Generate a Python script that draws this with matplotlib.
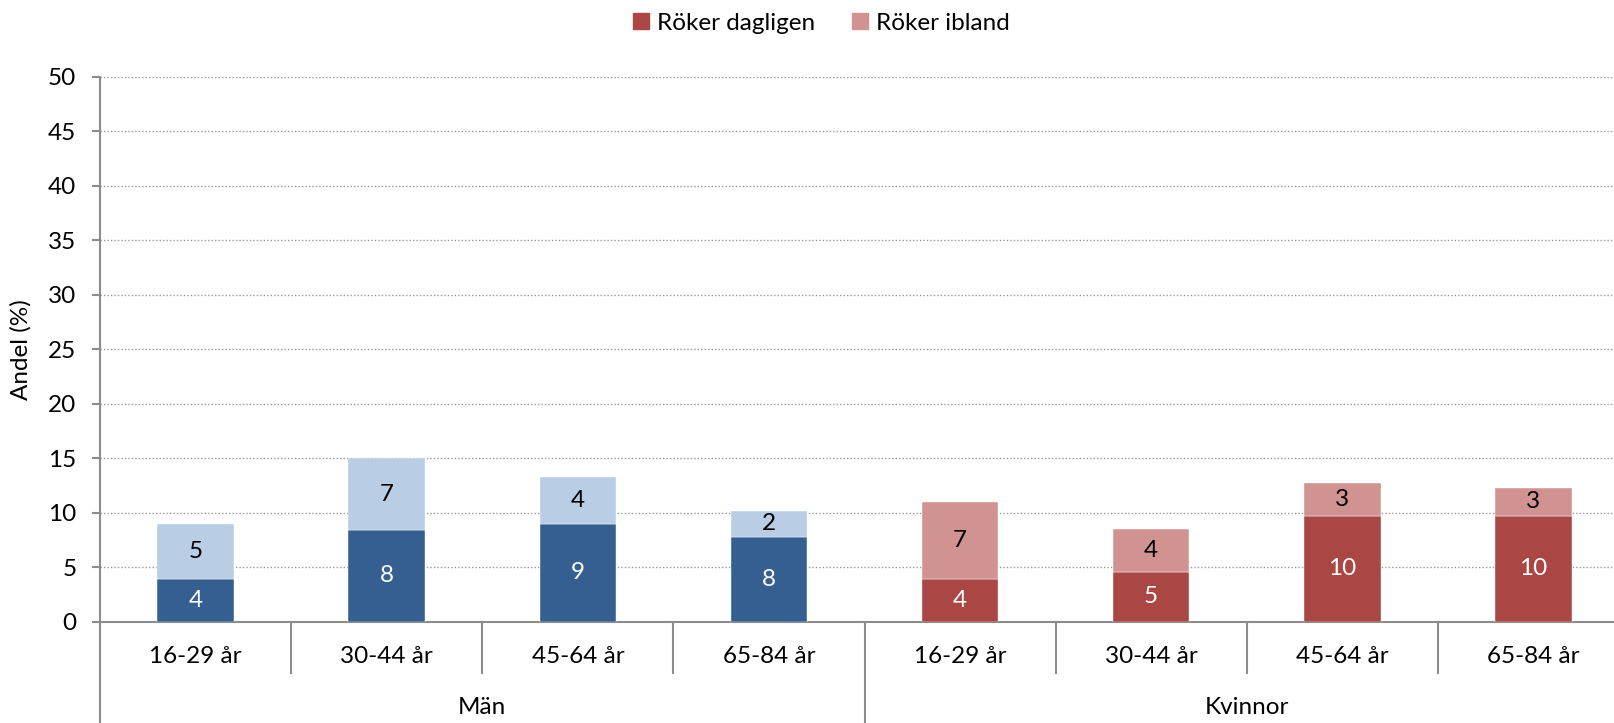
import numpy as np
import matplotlib
matplotlib.use("Agg")
import matplotlib.pyplot as plt
from matplotlib.patches import Patch

plt.rcParams['font.family'] = ['Lato', 'DejaVu Sans']

# Data (andel %)
age_groups = ['16-29 år', '30-44 år', '45-64 år', '65-84 år']
sexes = ['Män', 'Kvinnor']
daily_men = [3.9, 8.4, 9.0, 7.8]
sometimes_men = [5.1, 6.6, 4.3, 2.4]
daily_women = [3.9, 4.6, 9.7, 9.7]
sometimes_women = [7.1, 3.9, 3.0, 2.6]
yticks = [0, 5, 10, 15, 20, 25, 30, 35, 40, 45, 50]

blue_dark, blue_light = '#365F91', '#B9CDE5'
red_dark, red_light = '#AA4643', '#D19392'
axis_grey = '#8C8C8C'
fs = 17.5

fig = plt.figure(figsize=(16.14, 7.23), dpi=100)
ax = fig.add_axes([100 / 1614, 1 - 621.7 / 723, 1529 / 1614, 545 / 723])

daily = daily_men + daily_women
sometimes = sometimes_men + sometimes_women
x = np.arange(len(daily))
dark_cols = [blue_dark] * 4 + [red_dark] * 4
light_cols = [blue_light] * 4 + [red_light] * 4

b1 = ax.bar(x, daily, width=0.4, color=dark_cols, edgecolor='white', linewidth=0.3, zorder=3)
b2 = ax.bar(x, sometimes, bottom=daily, width=0.4, color=light_cols, edgecolor='white', linewidth=0.3, zorder=3)
ax.bar_label(b1, labels=[f"{v:.0f}" for v in daily], label_type='center', color='white', fontsize=fs)
ax.bar_label(b2, labels=[f"{v:.0f}" for v in sometimes], label_type='center', color='black', fontsize=fs)

ax.set_xlim(-0.5, 7.5)
ax.set_ylim(0, 50)
ax.set_yticks(yticks)
ax.tick_params(axis='y', labelsize=fs, length=6, width=1.5, color=axis_grey, pad=11)
ax.set_xticks([])
ax.yaxis.grid(True, linestyle=(0, (1, 1.5)), color='#999999', linewidth=1.0, zorder=0)
ax.set_axisbelow(True)
for side in ['top', 'right']:
    ax.spines[side].set_visible(False)
for side in ['left', 'bottom']:
    ax.spines[side].set_color(axis_grey)
    ax.spines[side].set_linewidth(1.5)
ax.set_ylabel('Andel (%)', fontsize=fs, labelpad=12)

# category axis with dividers and group labels
tr = ax.get_xaxis_transform()
for b in np.arange(-0.5, 8.0, 1.0):
    bottom = -0.186 if b in (-0.5, 3.5) else -0.094
    ax.plot([b, b], [0, bottom], transform=tr, color=axis_grey, linewidth=1.5, clip_on=False)
for i, lab in enumerate(age_groups * 2):
    ax.text(i, -0.063, lab, transform=tr, ha='center', va='center', fontsize=fs)
for j, s in enumerate(sexes):
    ax.text(1.5 + 4 * j, -0.158, s, transform=tr, ha='center', va='center', fontsize=fs)

handles = [Patch(color=red_dark), Patch(color=red_light)]
fig.legend(handles, ['Röker dagligen', 'Röker ibland'], loc='center', bbox_to_anchor=(0.509, 0.968),
           ncol=2, frameon=False, fontsize=fs, handlelength=0.65, handleheight=0.65,
           handletextpad=0.35, columnspacing=1.5)

fig.savefig('out.png', dpi=100)
